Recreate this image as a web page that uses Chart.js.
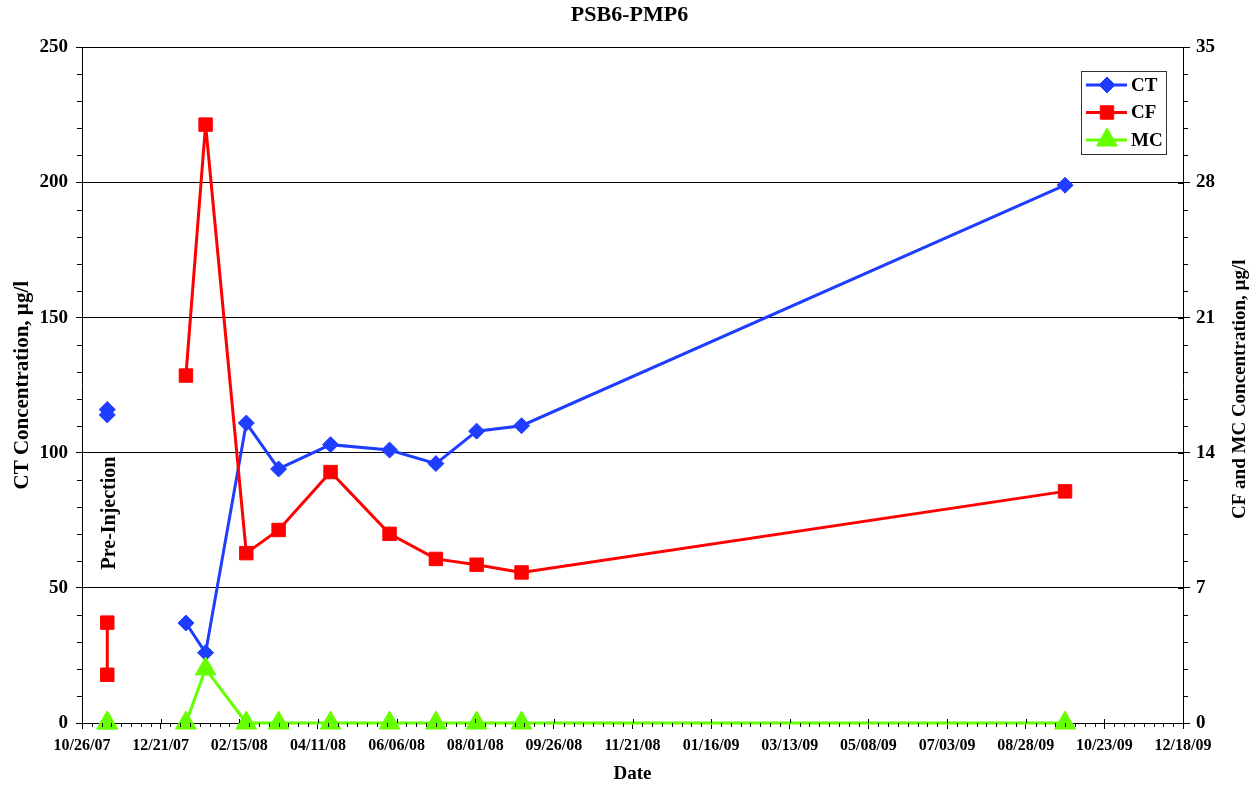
<!DOCTYPE html>
<html>
<head>
<meta charset="utf-8">
<title>PSB6-PMP6</title>
<script src="https://cdn.jsdelivr.net/npm/chart.js@4/dist/chart.umd.min.js"></script>
<style>
  html, body { margin: 0; padding: 0; background: #fff; }
  #wrap { width: 1259px; height: 786px; }
</style>
</head>
<body>
<div id="wrap"><canvas id="chart" width="1259" height="786"></canvas></div>
<script>
// sample dates (MM/DD/YY); the 12/20/07 row only breaks the line after the pre-injection samples
const sampleDates = ['11/13/07', '11/13/07', '12/20/07', '01/08/08', '01/22/08', '02/20/08', '03/14/08',
                     '04/20/08', '06/01/08', '07/04/08', '08/02/08', '09/03/08', '09/25/09'];
const ctValues = [116, 114, null, 37, 26, 111, 94, 103, 101, 96, 108, 110, 199];
const cfValues = [5.2, 2.5, null, 18, 31, 8.8, 10, 13, 9.8, 8.5, 8.2, 7.8, 12];
const mcValues = [0, 0, null, 0, 2.8, 0, 0, 0, 0, 0, 0, 0, 0];

const seriesNames = ['CT', 'CF', 'MC'];
const startDate = '10/26/07';
const endDate = '12/18/09';
const dateStepDays = 56;
const ctTicks = [0, 50, 100, 150, 200, 250];
const cfmcTicks = [0, 7, 14, 21, 28, 35];

const FONT = "'Liberation Serif', 'Times New Roman', serif";
const DAY = 86400000;

function toUTC(s) {
    const [m, d, y] = s.split('/').map(Number);
    return Date.UTC(2000 + y, m - 1, d);
}
const base = toUTC(startDate);
const dayOf = s => (toUTC(s) - base) / DAY;
const pad = n => String(n).padStart(2, '0');
function fmtDay(v) {
    const dt = new Date(base + v * DAY);
    return pad(dt.getUTCMonth() + 1) + '/' + pad(dt.getUTCDate()) + '/' + pad(dt.getUTCFullYear() % 100);
}

const points = vals => sampleDates.map((d, i) => ({ x: dayOf(d), y: vals[i] }));

// small tick marks between the labelled ones, plus the inner half of crossing ticks
const minorTicks = {
    id: 'minorTicks',
    afterDraw(chart) {
        const { ctx, chartArea: a } = chart;
        const x = chart.scales.x, y = chart.scales.y, y1 = chart.scales.y1;
        ctx.save();
        ctx.strokeStyle = '#000';
        ctx.lineWidth = 1;
        ctx.beginPath();
        for (let v = 10; v < 250; v += 10) {
            if (v % 50 === 0) continue;
            const py = Math.round(y.getPixelForValue(v)) + 0.5;
            ctx.moveTo(a.left - 5, py); ctx.lineTo(a.left, py);
        }
        for (let k = 1; k < 25; k++) {
            const py = Math.round(y1.getPixelForValue(k * 1.4)) + 0.5;
            if (k % 5 === 0) { ctx.moveTo(a.right - 5, py); ctx.lineTo(a.right, py); continue; }
            ctx.moveTo(a.right, py); ctx.lineTo(a.right + 5, py);
        }
        const last = dayOf(endDate);
        for (let d = 0; d <= last; d += 7) {
            const px = Math.round(x.getPixelForValue(d)) + 0.5;
            if (d % dateStepDays === 0) { ctx.moveTo(px, a.bottom - 4); ctx.lineTo(px, a.bottom); continue; }
            ctx.moveTo(px, a.bottom); ctx.lineTo(px, a.bottom + 4);
        }
        ctx.stroke();
        ctx.restore();
    }
};

// right axis title (reads bottom to top), Pre-Injection note and boxed legend
const annotations = {
    id: 'annotations',
    afterDraw(chart) {
        const { ctx, chartArea: a } = chart;
        ctx.save();
        ctx.fillStyle = '#000';
        ctx.textAlign = 'center';
        ctx.textBaseline = 'middle';

        ctx.save();
        ctx.translate(1240, (a.top + a.bottom) / 2 + 4);
        ctx.rotate(-Math.PI / 2);
        ctx.font = 'bold 19px ' + FONT;
        ctx.fillText('CF and MC Concentration, \u00b5g/l', 0, 0);
        ctx.restore();

        ctx.save();
        ctx.translate(chart.scales.x.getPixelForValue(dayOf(sampleDates[0])) + 3, 513);
        ctx.rotate(-Math.PI / 2);
        ctx.font = 'bold 20px ' + FONT;
        ctx.fillText('Pre-Injection', 0, 0);
        ctx.restore();

        const x0 = 1081, y0 = 71, w = 85, h = 83;
        ctx.fillStyle = '#fff';
        ctx.fillRect(x0, y0, w, h);
        ctx.strokeStyle = '#333';
        ctx.lineWidth = 1;
        ctx.strokeRect(x0 + 0.5, y0 + 0.5, w, h);
        ctx.textAlign = 'left';
        ctx.font = 'bold 19px ' + FONT;
        chart.data.datasets.forEach((ds, i) => {
            const ly = y0 + 14 + i * 27.5;
            ctx.strokeStyle = ds.borderColor;
            ctx.lineWidth = 3;
            ctx.beginPath();
            ctx.moveTo(x0 + 5, ly); ctx.lineTo(x0 + 46, ly);
            ctx.stroke();
            ctx.fillStyle = ds.pointBackgroundColor;
            ctx.lineWidth = 1;
            Chart.helpers.drawPoint(ctx, { pointStyle: ds.pointStyle, radius: ds.pointRadius, borderWidth: 1, rotation: 0 }, x0 + 26, ly);
            ctx.fillStyle = '#000';
            ctx.fillText(ds.label, x0 + 50, ly + 1);
        });
        ctx.restore();
    }
};

const colors = ['#1f3dff', '#ff0000', '#66ff00'];
const styles = [
    { pointStyle: 'rectRot', pointRadius: 8 },
    { pointStyle: 'rect', pointRadius: 9.5 },
    { pointStyle: 'triangle', pointRadius: 12 }
];

const ctx = document.getElementById('chart').getContext('2d');
new Chart(ctx, {
    type: 'line',
    data: {
        datasets: [ctValues, cfValues, mcValues].map((vals, i) => ({
            label: seriesNames[i],
            data: points(vals),
            yAxisID: i === 0 ? 'y' : 'y1',
            borderColor: colors[i],
            backgroundColor: colors[i],
            pointBackgroundColor: colors[i],
            pointBorderColor: colors[i],
            pointBorderWidth: 1,
            borderWidth: 3,
            tension: 0,
            spanGaps: false,
            clip: false,
            order: 3 - i,
            ...styles[i]
        }))
    },
    options: {
        responsive: false,
        animation: false,
        devicePixelRatio: 1,
        layout: { padding: 0 },
        plugins: {
            legend: { display: false },
            tooltip: { enabled: false },
            title: {
                display: true,
                text: 'PSB6-PMP6',
                color: '#000',
                font: { family: FONT, size: 22, weight: 'bold' },
                padding: { top: 2, bottom: 19 }
            }
        },
        scales: {
            x: {
                type: 'linear',
                min: 0,
                max: dayOf(endDate),
                afterFit: s => { s.height = 63; },
                afterBuildTicks: s => {
                    s.ticks = [];
                    for (let d = 0; d <= dayOf(endDate); d += dateStepDays) s.ticks.push({ value: d });
                },
                ticks: {
                    color: '#000',
                    autoSkip: false,
                    maxRotation: 0,
                    padding: 7,
                    font: { family: FONT, size: 16, weight: 'bold' },
                    callback: v => fmtDay(v)
                },
                grid: { drawOnChartArea: false, color: '#000', tickLength: 6 },
                border: { color: '#000', width: 1 },
                title: {
                    display: true,
                    text: 'Date',
                    color: '#000',
                    font: { family: FONT, size: 19, weight: 'bold' },
                    padding: { top: 0, bottom: 1 }
                }
            },
            y: {
                position: 'left',
                min: 0,
                max: 250,
                afterFit: s => { s.width = 82; },
                afterBuildTicks: s => { s.ticks = ctTicks.map(v => ({ value: v })); },
                ticks: {
                    color: '#000',
                    padding: 8,
                    font: { family: FONT, size: 19, weight: 'bold' }
                },
                grid: { color: '#000', lineWidth: 1, tickLength: 6 },
                border: { color: '#000', width: 1 },
                title: {
                    display: true,
                    text: 'CT Concentration, \u00b5g/l',
                    color: '#000',
                    font: { family: FONT, size: 21, weight: 'bold' },
                    padding: { top: 10, bottom: 0 }
                }
            },
            y1: {
                position: 'right',
                min: 0,
                max: 35,
                afterFit: s => { s.width = 76; },
                afterBuildTicks: s => { s.ticks = cfmcTicks.map(v => ({ value: v })); },
                ticks: {
                    color: '#000',
                    padding: 6,
                    font: { family: FONT, size: 19, weight: 'bold' }
                },
                grid: { drawOnChartArea: false, color: '#000', tickLength: 7 },
                border: { color: '#000', width: 1 }
            }
        }
    },
    plugins: [minorTicks, annotations]
});
</script>
</body>
</html>
